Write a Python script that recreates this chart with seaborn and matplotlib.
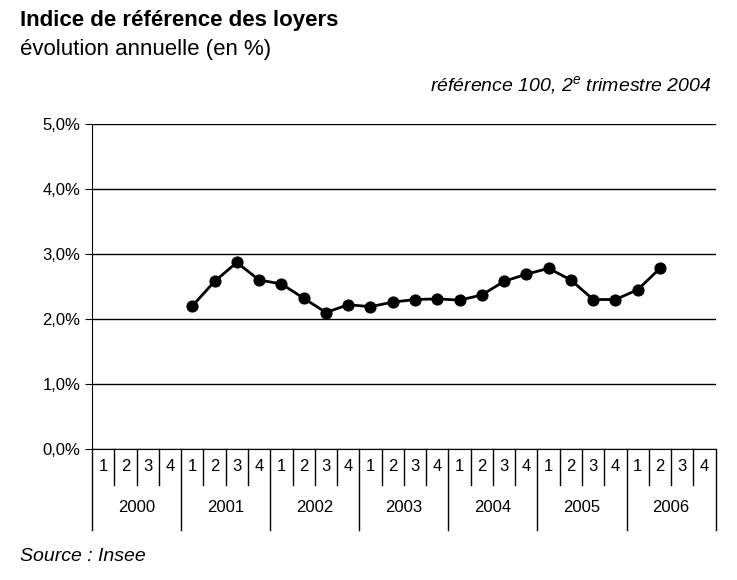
import matplotlib
matplotlib.use("Agg")
import matplotlib.pyplot as plt
import matplotlib.transforms as mtrans
import numpy as np
import pandas as pd
import seaborn as sns

plt.rcParams["font.family"] = "Liberation Sans"
plt.rcParams["mathtext.fontset"] = "custom"
plt.rcParams["mathtext.it"] = "Liberation Sans:italic"

years = ["2000", "2001", "2002", "2003", "2004", "2005", "2006"]
quarters = ["1", "2", "3", "4"]
# annual change (%), from 2001 Q1 to 2006 Q2
irl_values = [2.20, 2.58, 2.87, 2.60, 2.54, 2.32, 2.10, 2.22,
              2.19, 2.26, 2.30, 2.31, 2.29, 2.37, 2.58, 2.69,
              2.78, 2.60, 2.30, 2.30, 2.45, 2.78]
first_index = 4  # 2001 Q1

df = pd.DataFrame({
    "pos": np.arange(first_index, first_index + len(irl_values)),
    "value": irl_values,
})

fig = plt.figure(figsize=(7.37, 5.8), dpi=100)
ax = fig.add_axes([0.125, 0.226, 0.846, 0.56])

sns.lineplot(data=df, x="pos", y="value", ax=ax, color="black",
             linewidth=2, marker="o", markersize=8,
             markeredgecolor="black")

n = len(years) * 4
ax.set_xlim(-0.5, n - 0.5)
ax.set_ylim(0, 5)
ax.set_yticks(np.arange(0, 5.1, 1))
ax.set_yticklabels([f"{v:.1f}%".replace(".", ",") for v in np.arange(0, 5.1, 1)],
                   fontsize=12)
ax.yaxis.grid(True, color="black", linewidth=1)
ax.set_axisbelow(True)
ax.set_xticks([])
ax.set_xlabel("")
ax.set_ylabel("")
for s in ["top", "right"]:
    ax.spines[s].set_visible(False)
ax.tick_params(axis="y", length=5)

# category axis drawn below the plot
trans = mtrans.blended_transform_factory(ax.transData, ax.transAxes)
q_h, y_h = 0.111, 0.249
for k in range(n + 1):
    x = k - 0.5
    low = -y_h if k % 4 == 0 else -q_h
    ax.plot([x, x], [0, low], transform=trans, color="black",
            linewidth=1, clip_on=False)
for k in range(n):
    ax.text(k, -q_h / 2, quarters[k % 4], transform=trans,
            ha="center", va="center", fontsize=12)
for i, yr in enumerate(years):
    ax.text(4 * i + 1.5, -(q_h + y_h) / 2, yr, transform=trans,
            ha="center", va="center", fontsize=12)

fig.text(0.027, 0.965, "Indice de référence des loyers", fontsize=16,
         fontweight="bold", va="center")
fig.text(0.027, 0.915, "évolution annuelle (en %)", fontsize=16, va="center")
fig.text(0.965, 0.853, "référence 100, 2$^{e}$ trimestre 2004", fontsize=14,
         style="italic", ha="right", va="center")
fig.text(0.027, 0.04, "Source : Insee", fontsize=14, style="italic",
         va="center")

fig.savefig("out.png", dpi=100)
